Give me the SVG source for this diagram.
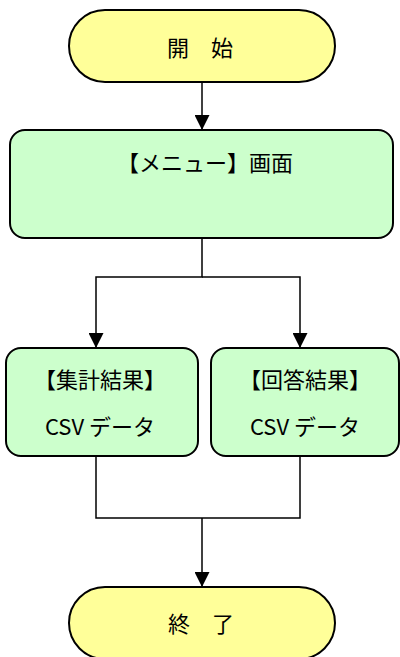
<svg xmlns="http://www.w3.org/2000/svg" width="400" height="657" viewBox="0 0 400 657">
<style>
.term{fill:#FFFF99;stroke:#000;stroke-width:2}
.proc{fill:#CCFFCC;stroke:#000;stroke-width:2}
.t{font-family:"Noto Sans CJK JP","Noto Sans CJK SC",sans-serif;font-size:22px;fill:#000;text-anchor:middle}
.c{fill:none;stroke:#000;stroke-width:1.5}
</style>
<defs>
<marker id="arr" viewBox="0 0 15 15" refX="15" refY="7.5" markerWidth="15" markerHeight="15" markerUnits="userSpaceOnUse" orient="auto">
<path d="M0,0 L15,7.5 L0,15 z" fill="#000"/>
</marker>
</defs>
<g id="connectors">
<line class="c" x1="202" y1="82" x2="202" y2="130" marker-end="url(#arr)"/>
<polyline class="c" points="202,238 202,277 96,277 96,348" marker-end="url(#arr)"/>
<polyline class="c" points="202,277 300,277 300,348" marker-end="url(#arr)"/>
<polyline class="c" points="96,456 96,518 300,518 300,456"/>
<line class="c" x1="202" y1="518" x2="202" y2="587" marker-end="url(#arr)"/>
</g>
<g id="start">
<rect class="term" x="69" y="10" width="266" height="72" rx="36"/>
<text class="t" x="200" y="56">開　始</text>
</g>
<g id="menu">
<rect class="proc" x="10" y="130" width="383" height="108" rx="15"/>
<text class="t" x="205" y="171">【メニュー】画面</text>
</g>
<g id="summary">
<rect class="proc" x="6" y="348" width="192" height="108" rx="15"/>
<text class="t" x="100" y="388">【集計結果】</text>
<text class="t" x="100" y="435">CSV データ</text>
</g>
<g id="answers">
<rect class="proc" x="211" y="348" width="188" height="108" rx="15"/>
<text class="t" x="305" y="388">【回答結果】</text>
<text class="t" x="305" y="435">CSV データ</text>
</g>
<g id="end">
<rect class="term" x="69" y="587" width="266" height="72" rx="36"/>
<text class="t" x="201" y="632">終　了</text>
</g>
</svg>
